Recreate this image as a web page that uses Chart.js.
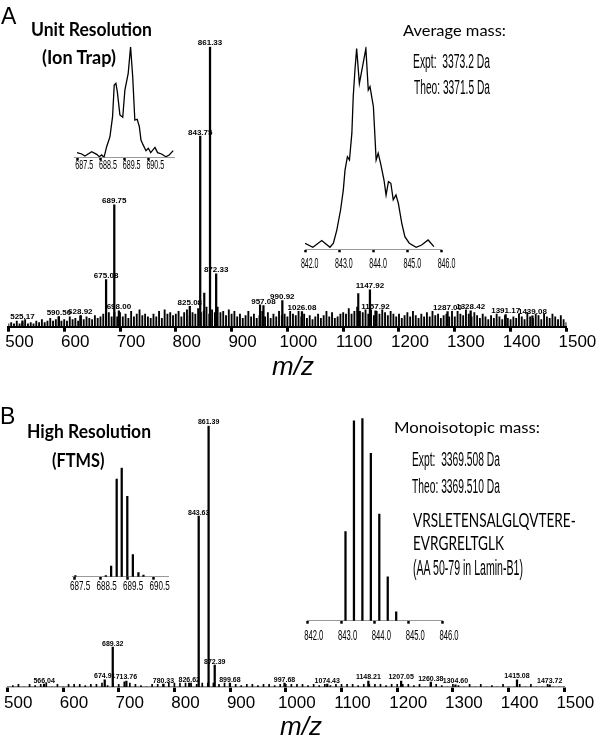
<!DOCTYPE html>
<html>
<head>
<meta charset="utf-8">
<title>Unit vs high resolution spectra</title>
<script src="https://cdn.jsdelivr.net/npm/chart.js@4.4.1/dist/chart.umd.min.js"></script>
<style>
  body { margin: 0; background: #fff; }
  #page { position: relative; width: 600px; height: 738px; overflow: hidden; }
  #page canvas { position: absolute; }
  .txt { position: absolute; white-space: nowrap; line-height: 1; color: #000; transform-origin: 0 0; z-index: 5; }
  .panel { font-family: "Liberation Sans", Arial, sans-serif; font-size: 23px; }
  .head { font-family: Lato, sans-serif; font-weight: bold; font-size: 18.6px; }
  .note { font-family: Lato, sans-serif; font-size: 16px; }
  .narrow { font-family: "Liberation Sans Narrow", "Liberation Sans", sans-serif; font-size: 20px; }
  .big { font-size: 22px; }
  .seq { font-family: Lato, sans-serif; font-size: 19px; }
  .mz { font-family: "Liberation Sans", Arial, sans-serif; font-style: italic; font-size: 26px; }
</style>
</head>
<body>
<div id="page">
  <canvas id="spectrumA" width="600" height="380" style="left:0;top:0"></canvas>
  <canvas id="spectrumB" width="600" height="358" style="left:0;top:380px"></canvas>
  <canvas id="insetA689" width="130" height="150" style="left:60px;top:30px"></canvas>
  <canvas id="insetA844" width="180" height="250" style="left:285px;top:30px"></canvas>
  <canvas id="insetB689" width="130" height="160" style="left:60px;top:440px"></canvas>
  <canvas id="insetB844" width="180" height="250" style="left:285px;top:400px"></canvas>

  <div class="txt panel" style="left:1px;top:4.5px">A</div>
  <div class="txt head" data-w="121" style="left:31px;top:19.5px">Unit Resolution</div>
  <div class="txt head" data-w="74" style="left:42px;top:48px">(Ion Trap)</div>
  <div class="txt note" data-w="103" style="left:403px;top:22.3px">Average mass:</div>
  <div class="txt narrow" data-w="77" style="left:413px;top:50.7px">Expt:&nbsp; 3373.2 Da</div>
  <div class="txt narrow" data-w="76" style="left:414px;top:77.4px">Theo: 3371.5 Da</div>
  <div class="txt mz" style="left:272px;top:353px">m/z</div>

  <div class="txt panel" style="left:0;top:404.5px">B</div>
  <div class="txt head" data-w="124" style="left:27px;top:421.8px">High Resolution</div>
  <div class="txt head" data-w="52.5" style="left:51.5px;top:450.5px">(FTMS)</div>
  <div class="txt note" data-w="146" style="left:394px;top:419.3px">Monoisotopic mass:</div>
  <div class="txt narrow" data-w="88" style="left:411.7px;top:449.1px">Expt:&nbsp; 3369.508 Da</div>
  <div class="txt narrow" data-w="88" style="left:411.7px;top:475.7px">Theo: 3369.510 Da</div>
  <div class="txt seq" data-w="162.7" style="left:413px;top:509.7px">VRSLETENSALGLQVTERE-</div>
  <div class="txt seq" data-w="91" style="left:413px;top:533.4px">EVRGRELTGLK</div>
  <div class="txt narrow big" data-w="110" style="left:413px;top:556.5px">(AA 50-79 in Lamin-B1)</div>
  <div class="txt mz" style="left:280px;top:713px">m/z</div>
</div>

<script>
// axis ticks
var mzTicks = [500, 600, 700, 800, 900, 1000, 1100, 1200, 1300, 1400, 1500];
var inset689Ticks = [687.5, 688.5, 689.5, 690.5];
var inset844Ticks = [842.0, 843.0, 844.0, 845.0, 846.0];

// A: ion trap, labelled peaks (relative intensity %)
var trapPeakMz  = [525.17, 590.50, 628.92, 675.08, 689.75, 698.00, 825.08, 843.75, 861.33, 872.33, 957.08, 990.92, 1026.08, 1147.92, 1157.92, 1287.00, 1328.42, 1391.17, 1439.08];
var trapPeakInt = [2.1, 3.6, 3.9, 16.8, 43.5, 5.7, 7.3, 68.1, 100, 18.9, 7.5, 9.3, 5.4, 13.2, 5.7, 5.4, 5.7, 4.3, 3.9];
// unlabelled bigger sticks
var trapOtherMz  = [851.0, 951.0, 1127.0];
var trapOtherInt = [12.0, 7.8, 11.8];
// noise floor, one value every 5 m/z from 500
var trapNoiseStart = 500, trapNoiseStep = 5;
var trapNoise = [
  1, 1.5, 1, 2, 1, 1.5, 2.5, 1, 1.5, 1, 2, 1.5, 2.5, 1.5, 2, 3, 2, 2.5, 3.5, 2,
  2.5, 2, 3.5, 2.5, 3, 2, 4, 2.5, 3.5, 3, 2.5, 4, 3, 3.5, 4.5, 3, 5, 3.5, 5, 3.5,
  5, 3.5, 4.5, 3, 5.5, 3.5, 4.5, 6, 4, 4.5, 3.5, 3, 4.5, 3.5, 5.5, 3, 6, 4.5, 5, 4,
  4.5, 5.5, 3.5, 5, 6, 4, 5, 4.5, 6.5, 5, 5.5, 7, 4.5, 6, 5, 7, 5, 5.5, 4, 6,
  4.5, 5.5, 3.5, 4.5, 3, 4, 5.5, 3.5, 4.5, 3, 4, 5.5, 3.5, 5, 3, 4.5, 3.5, 5.5, 4, 4.5,
  3.5, 5.5, 4.5, 4, 5.5, 3.5, 4.5, 3, 4, 2.5, 3.5, 4.5, 3, 4, 5.5, 3.5, 5, 3, 3.5, 4.5,
  5, 4.5, 6.5, 4.5, 5.5, 7, 5.5, 5, 6, 4.5, 6, 4, 5.5, 4.5, 6, 5, 4, 5.5, 4.5, 3.5,
  4.5, 3, 4, 5, 3.5, 5.5, 4, 3, 4.5, 3.5, 5, 3.5, 5.5, 4, 4.5, 3, 4, 4.5, 3.5, 5.5,
  3.5, 5.5, 4.5, 4, 6, 4.5, 3.5, 5, 4, 3, 4.5, 3.5, 2.5, 4, 3, 4.5, 3.5, 2.5, 4, 3,
  2.5, 3.5, 3, 4.5, 3.5, 2.5, 5, 3.5, 3, 4.5, 4, 2.5, 4.5, 3.5, 3, 4.5, 3.5, 2.5, 4, 2.5, 1.5
];
// A insets: profile traces
var trap689Mz  = [687.49, 687.69, 687.82, 688.11, 688.32, 688.43, 688.53, 688.63, 688.74, 688.88, 688.99, 689.06, 689.13, 689.19, 689.30, 689.42, 689.51, 689.65, 689.75, 689.84, 689.93, 690.03, 690.12, 690.19, 690.28, 690.40, 690.50, 690.60, 690.78, 690.89, 691.06, 691.24, 691.38, 691.55];
var trap689Int = [4.2, 3.0, 1.2, 5.1, 2.7, 0.5, 2.1, 0, 9.6, 18.7, 36.8, 65.4, 66.9, 59.4, 38.3, 36.2, 60.8, 75.9, 100, 72.9, 33.7, 34.4, 27.7, 15.6, 11.2, 6.0, 8.2, 4.2, 9.0, 4.2, 3.0, 0.5, 2.1, 6.0];
var trap844Mz  = [842.00, 842.23, 842.49, 842.73, 842.83, 842.93, 843.04, 843.12, 843.17, 843.24, 843.30, 843.37, 843.41, 843.46, 843.51, 843.59, 843.78, 843.85, 843.90, 844.00, 844.08, 844.14, 844.21, 844.31, 844.37, 844.44, 844.51, 844.58, 844.66, 844.73, 844.83, 844.92, 845.05, 845.25, 845.41, 845.60, 845.77];
var trap844Int = [3.0, 1.0, 4.3, 1.0, 3.0, 9.5, 19.4, 29.2, 39.1, 45.7, 44.1, 57.2, 75.3, 88.4, 99.1, 81.8, 99.1, 78.6, 80.3, 70.4, 44.1, 47.4, 42.4, 34.2, 26.8, 33.4, 32.6, 24.4, 26.8, 22.7, 12.8, 6.2, 3.0, 1.0, 2.1, 4.6, 1.3];

// B: FTMS, labelled peaks
var ftmsPeakMz  = [566.04, 674.91, 689.32, 713.76, 780.33, 826.62, 843.63, 861.39, 872.39, 899.68, 997.68, 1074.43, 1148.21, 1207.05, 1260.38, 1304.60, 1415.08, 1473.72];
var ftmsPeakInt = [1.1, 2.7, 15.3, 2.3, 1.1, 1.5, 65.4, 100, 8.4, 1.5, 1.5, 1.1, 2.3, 2.3, 1.9, 0.8, 2.7, 0.8];
// noise floor, one value every 10 m/z from 500
var ftmsNoiseStart = 500, ftmsNoiseStep = 10;
var ftmsNoise = [
  0, 0.5, 1, 0, 1, 0.5, 1, 1.5, 0, 1,
  0, 1, 1, 1, 0.5, 1, 1, 1.5, 0.5, 1.5,
  1, 2, 1.5, 1, 0.5, 0, 1, 1, 1, 1.5,
  1.5, 1.5, 1.5, 1.5, 1, 1.5, 1.5, 1.5, 1, 1.5,
  1, 1, 0.5, 1, 1, 0.5, 1, 1, 0.5, 1,
  1, 1, 1, 1, 0.5, 1, 0.5, 1, 0.5, 1,
  1, 1, 1, 0.5, 1, 1, 1, 1, 0.5, 1,
  1, 1, 1, 0.5, 1, 0, 1, 1, 0.5, 0,
  1, 0.5, 0, 1, 0, 1, 0, 0.5, 0, 1,
  0, 0, 1, 0, 1, 0, 0, 1, 0, 0, 0
];
// B insets: isotope sticks
var ftms689Mz  = [687.55, 688.70, 688.90, 689.11, 689.30, 689.51, 689.72, 689.93, 690.12];
var ftms689Int = [1.0, 1.0, 9.8, 89.6, 100, 73.7, 20.2, 3.7, 1.5];
var ftms844Mz  = [843.13, 843.38, 843.63, 843.88, 844.13, 844.38, 844.63];
var ftms844Int = [44.0, 98.8, 100, 82.7, 52.7, 21.7, 4.4];

Chart.defaults.font.family = '"Liberation Sans", Arial, sans-serif';
Chart.defaults.color = '#000';
Chart.defaults.animation = false;

function pairs(xs, ys) {
  return xs.map(function (x, i) { return { x: x, y: ys[i] }; });
}
function evenly(start, step, ys) {
  return ys.map(function (y, i) { return { x: start + i * step, y: y }; });
}

// numbers printed over the peaks
var peakLabels = {
  id: 'peakLabels',
  afterDatasetsDraw: function (chart, args, opts) {
    var ctx = chart.ctx, xs = chart.scales.x, ys = chart.scales.y;
    ctx.save();
    ctx.font = 'bold ' + opts.size + 'px "Liberation Sans", Arial, sans-serif';
    ctx.fillStyle = '#000';
    ctx.textAlign = 'center';
    ctx.textBaseline = 'alphabetic';
    opts.mz.forEach(function (m, i) {
      ctx.fillText(m.toFixed(2), xs.getPixelForValue(m), ys.getPixelForValue(opts.intensity[i]) - 1.5);
    });
    ctx.restore();
  }
};

// the insets use a very condensed face, so squeeze the tick text by hand
var squeezedTicks = {
  id: 'squeezedTicks',
  afterDraw: function (chart, args, opts) {
    var ctx = chart.ctx, xs = chart.scales.x;
    ctx.save();
    ctx.font = opts.size + 'px "Liberation Sans Narrow", "Liberation Sans", sans-serif';
    ctx.fillStyle = '#000';
    ctx.textAlign = 'center';
    ctx.textBaseline = 'middle';
    opts.values.forEach(function (v) {
      ctx.save();
      ctx.translate(xs.getPixelForValue(v) + opts.offset, xs.top + opts.gap);
      ctx.scale(opts.squeeze, 1);
      ctx.fillText(v.toFixed(1), 0, 0);
      ctx.restore();
    });
    ctx.restore();
  }
};

function fixedHeight(h) {
  return function (scale) {
    scale.height = h;
    scale.paddingLeft = 0;
    scale.paddingRight = 0;
  };
}
function useTicks(values) {
  return function (scale) {
    scale.ticks = values.map(function (v) { return { value: v }; });
  };
}
function sticks(points, width) {
  return { data: points, backgroundColor: '#000', borderWidth: 0, barThickness: width, grouped: false };
}

function mainSpectrum(id, datasets, padding, axisHeight, tickPad, border, labels) {
  return new Chart(document.getElementById(id), {
    type: 'bar',
    data: { datasets: datasets },
    options: {
      responsive: false,
      animation: false,
      layout: { padding: padding },
      plugins: { legend: { display: false }, tooltip: { enabled: false }, peakLabels: labels },
      scales: {
        x: {
          type: 'linear', min: 500, max: 1500, offset: false,
          afterBuildTicks: useTicks(mzTicks),
          afterFit: fixedHeight(axisHeight),
          grid: { offset: false, drawOnChartArea: false, tickLength: 5, tickWidth: 3, color: '#000' },
          border: border,
          ticks: { font: { size: 17 }, color: '#000', padding: tickPad, labelOffset: 11, maxRotation: 0, autoSkip: false,
                   callback: function (v) { return v; } }
        },
        y: { display: false, min: 0, max: 100 }
      }
    },
    plugins: [peakLabels]
  });
}

function inset(id, type, dataset, min, max, ticks, padding, axisHeight, tickText) {
  return new Chart(document.getElementById(id), {
    type: type,
    data: { datasets: [dataset] },
    options: {
      responsive: false,
      animation: false,
      layout: { padding: padding },
      plugins: { legend: { display: false }, tooltip: { enabled: false }, squeezedTicks: tickText },
      scales: {
        x: {
          type: 'linear', min: min, max: max, offset: false,
          afterBuildTicks: useTicks(ticks),
          afterFit: fixedHeight(axisHeight),
          grid: { offset: false, drawOnChartArea: false, tickLength: 3, tickWidth: 2.5, color: '#000' },
          border: { color: '#999', dash: [2, 2], width: 1 },
          ticks: { display: false }
        },
        y: { display: false, min: 0, max: 100 }
      }
    },
    plugins: [squeezedTicks]
  });
}

function profile(points) {
  return { data: points, borderColor: '#000', borderWidth: 1.3, pointRadius: 0, tension: 0, fill: false };
}

// panel A
mainSpectrum('spectrumA',
  [sticks(evenly(trapNoiseStart, trapNoiseStep, trapNoise), 1.2),
   sticks(pairs(trapOtherMz, trapOtherInt), 1.5),
   sticks(pairs(trapPeakMz, trapPeakInt), 1.6)],
  { left: 8.4, right: 33.6, top: 46.7, bottom: 0 }, 53.3, 0,
  { color: '#000', width: 2 },
  { mz: trapPeakMz, intensity: trapPeakInt, size: 8 });

inset('insetA689', 'line', profile(pairs(trap689Mz, trap689Int)), 687.4, 691.6, inset689Ticks,
  { left: 14.9, right: 15.6, top: 16.7, bottom: 0 }, 22.7,
  { values: inset689Ticks, offset: 7, gap: 8.2, size: 13, squeeze: 0.55 });

inset('insetA844', 'line', profile(pairs(trap844Mz, trap844Int)), 842, 846, inset844Ticks,
  { left: 20, right: 23.2, top: 16.7, bottom: 0 }, 30.7,
  { values: inset844Ticks, offset: 4.7, gap: 14.2, size: 15, squeeze: 0.47 });

// panel B
mainSpectrum('spectrumB',
  [sticks(evenly(ftmsNoiseStart, ftmsNoiseStep, ftmsNoise), 1),
   sticks(pairs(ftmsPeakMz, ftmsPeakInt), 1.6)],
  { left: 7.3, right: 35.7, top: 45.7, bottom: 0 }, 51, 1,
  { color: '#888', width: 1.5, dash: [2, 2] },
  { mz: ftmsPeakMz, intensity: ftmsPeakInt, size: 7 });

inset('insetB689', 'bar', sticks(pairs(ftms689Mz, ftms689Int), 1.6), 687.45, 691.05, inset689Ticks,
  { left: 12.7, right: 21.9, top: 27.7, bottom: 0 }, 23.3,
  { values: inset689Ticks, offset: 6, gap: 9.3, size: 13.5, squeeze: 0.6 });

inset('insetB844', 'bar', sticks(pairs(ftms844Mz, ftms844Int), 1.6), 842, 846, inset844Ticks,
  { left: 22.3, right: 22.5, top: 18.3, bottom: 0 }, 29.3,
  { values: inset844Ticks, offset: 6.5, gap: 15.3, size: 15, squeeze: 0.51 });

// squeeze the condensed captions to the widths seen in the figure
document.querySelectorAll('.txt[data-w]').forEach(function (el) {
  var w = el.getBoundingClientRect().width;
  el.style.transform = 'scaleX(' + (parseFloat(el.dataset.w) / w) + ')';
});
</script>
</body>
</html>
